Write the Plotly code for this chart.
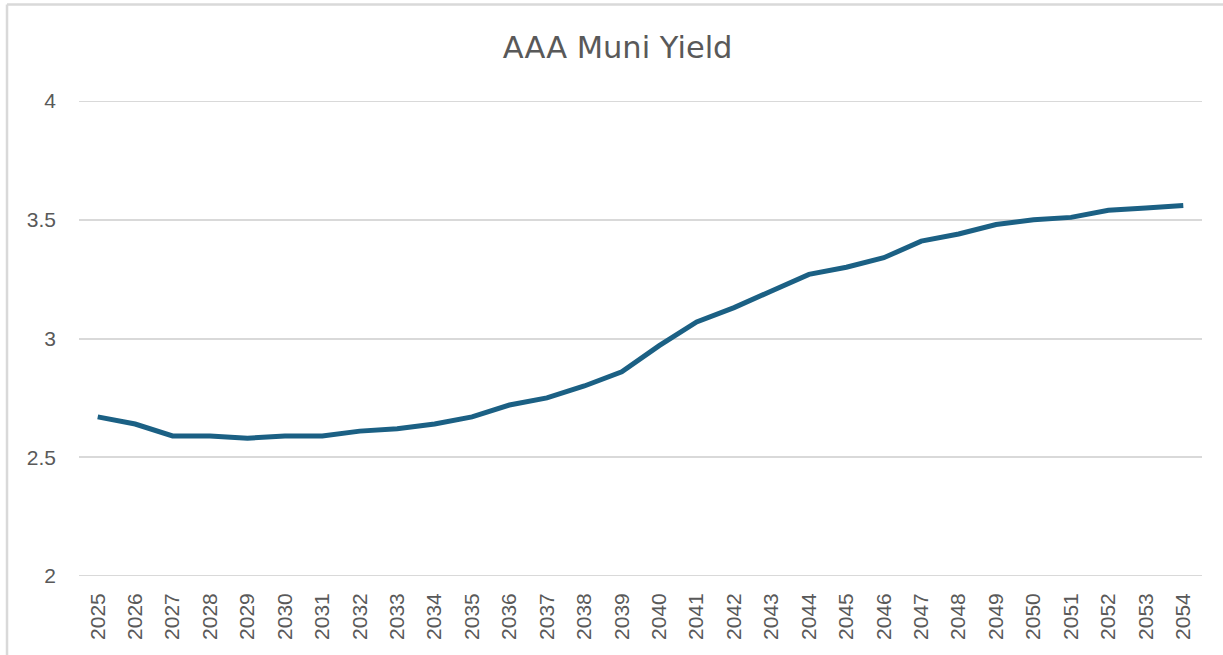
import plotly.graph_objects as go

years = [str(y) for y in range(2025, 2055)]
yields = [2.67, 2.64, 2.59, 2.59, 2.58, 2.59, 2.59, 2.61, 2.62, 2.64,
          2.67, 2.72, 2.75, 2.80, 2.86, 2.97, 3.07, 3.13, 3.20, 3.27,
          3.30, 3.34, 3.41, 3.44, 3.48, 3.50, 3.51, 3.54, 3.55, 3.56]
y_ticks = [2, 2.5, 3, 3.5, 4]
y_tick_labels = ["2", "2.5", "3", "3.5", "4"]

fig = go.Figure()
fig.add_trace(go.Scatter(
    x=years, y=yields, mode="lines",
    line=dict(color="#1b6084", width=5),
    hoverinfo="x+y",
))

grid_color = "#d9d9d9"
edge_lines = [
    dict(type="line", xref="paper", yref="y", x0=0, x1=1, y0=v, y1=v, layer="below",
         line=dict(color=grid_color, width=2))
    for v in (y_ticks[0], y_ticks[-1])
]

fig.update_layout(
    width=1223, height=655,
    margin=dict(l=79, r=21, t=101, b=79, autoexpand=False),
    paper_bgcolor="white", plot_bgcolor="white",
    showlegend=False,
    title=dict(text="AAA Muni Yield", x=0.505, xanchor="center", y=0.928, yanchor="middle",
               font=dict(family="DejaVu Sans, Verdana, sans-serif", size=30.5, color="#595959")),
    font=dict(family="Liberation Sans, Arial, sans-serif", size=21, color="#595959"),
    xaxis=dict(type="category", range=[-0.5, 29.5], tickangle=-90, showgrid=False,
               showline=False, ticks="", tickfont=dict(size=21, color="#595959"),
               ticklabelstandoff=12, automargin=False),
    yaxis=dict(range=[2, 4], tickvals=y_ticks, ticktext=y_tick_labels, showgrid=True,
               gridcolor=grid_color, gridwidth=2, zeroline=False, showline=False,
               ticks="", tickfont=dict(size=21, color="#595959"), ticklabelstandoff=22,
               automargin=False),
    shapes=edge_lines + [
        dict(type="line", xref="paper", yref="paper", x0=-0.0641, x1=1.02, y0=1.2032, y1=1.2032,
             line=dict(color=grid_color, width=2.5)),
        dict(type="line", xref="paper", yref="paper", x0=-0.0641, x1=-0.0641, y0=1.2032, y1=-0.17,
             line=dict(color=grid_color, width=2.5)),
    ],
)

fig.write_html("out.html", config={"displayModeBar": False},
               post_script="document.body.style.margin='0';")
